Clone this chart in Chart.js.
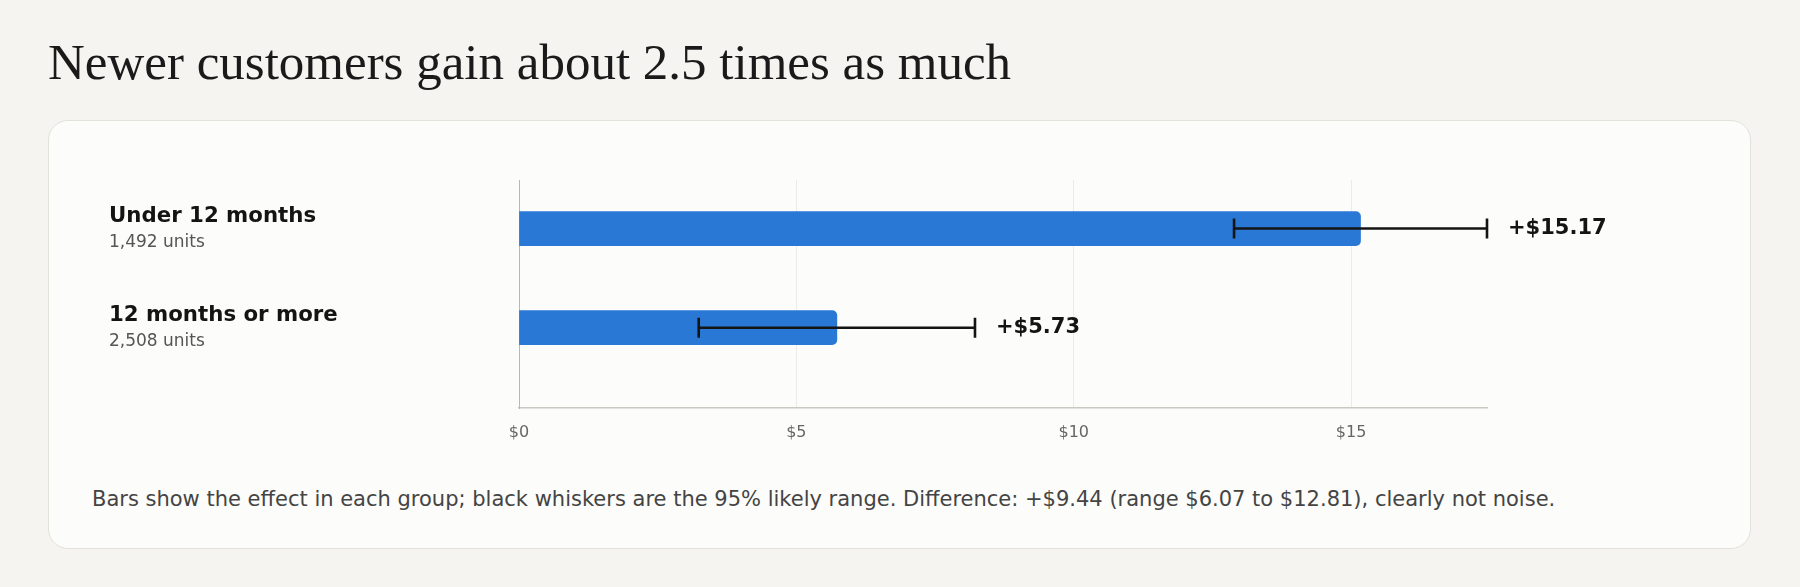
<!DOCTYPE html>
<html lang="en">
<head>
  <meta charset="UTF-8">
  <title>Effect by customer tenure</title>
  <script src="https://cdn.jsdelivr.net/npm/chart.js@4.4.1/dist/chart.umd.min.js"></script>
  <style>
    html, body { margin: 0; padding: 0; }
    body { width: 1800px; height: 587px; background: #f5f4f0; position: relative; overflow: hidden; }
    h1 {
      position: absolute; left: 48px; top: 37px; margin: 0;
      font: 400 51px/51px "Liberation Serif", "Times New Roman", serif;
      color: #1a1a1a; white-space: nowrap;
    }
    .card {
      position: absolute; left: 48px; top: 120px; width: 1701px; height: 427px;
      background: #fcfcfa; border: 1px solid #e3e1da; border-radius: 20px;
    }
    .chart-box { position: absolute; left: 0; top: 0; width: 1701px; height: 340px; }
    .note {
      position: absolute; left: 43px; top: 368px; margin: 0;
      font: 400 21px/21px "DejaVu Sans", sans-serif; color: #444; white-space: nowrap;
    }
  </style>
</head>
<body>
<h1>Newer customers gain about 2.5 times as much</h1>

<div class="card">
  <div class="chart-box">
    <canvas id="effectChart"></canvas>
  </div>
  <p class="note">Bars show the effect in each group; black whiskers are the 95% likely range. Difference: +$9.44 (range $6.07 to $12.81), clearly not noise.</p>
</div>

<script>
  // data
  const groups = ['Under 12 months', '12 months or more'];
  const units = ['1,492 units', '2,508 units'];
  const effects = [15.17, 5.73];
  const lowerCI = [12.89, 3.24];
  const upperCI = [17.45, 8.22];
  const xTicks = [0, 5, 10, 15];

  const BLUE = '#2a78d6';
  const INK = '#141414';

  // row labels on the left, whiskers and value labels on the right
  const rowDecor = {
    id: 'rowDecor',
    afterDatasetsDraw(chart) {
      const ctx = chart.ctx;
      const xs = chart.scales.x;
      const bars = chart.getDatasetMeta(0).data;
      ctx.save();
      bars.forEach((bar, i) => {
        const y = bar.y;
        const lo = xs.getPixelForValue(lowerCI[i]);
        const hi = xs.getPixelForValue(upperCI[i]);

        ctx.strokeStyle = INK;
        ctx.lineWidth = 2.6;
        ctx.beginPath();
        ctx.moveTo(lo, y); ctx.lineTo(hi, y);
        ctx.moveTo(lo, y - 10); ctx.lineTo(lo, y + 10);
        ctx.moveTo(hi, y - 10); ctx.lineTo(hi, y + 10);
        ctx.stroke();

        ctx.fillStyle = INK;
        ctx.font = 'bold 21px "DejaVu Sans", sans-serif';
        ctx.textAlign = 'left';
        ctx.textBaseline = 'middle';
        ctx.fillText('+$' + effects[i].toFixed(2), hi + 21, y);

        ctx.textBaseline = 'alphabetic';
        ctx.font = 'bold 21.3px "DejaVu Sans", sans-serif';
        ctx.fillText(groups[i], 60, y - 7);
        ctx.fillStyle = '#555';
        ctx.font = '17px "DejaVu Sans", sans-serif';
        ctx.fillText(units[i], 60, y + 18.7);
      });
      ctx.restore();
    }
  };

  const ctx = document.getElementById('effectChart').getContext('2d');
  new Chart(ctx, {
    type: 'bar',
    data: {
      datasets: [{
        data: effects.map((v, i) => ({ x: v, y: i })),
        backgroundColor: BLUE,
        borderRadius: 5,
        borderSkipped: 'start',
        barThickness: 34
      }]
    },
    options: {
      indexAxis: 'y',
      responsive: true,
      maintainAspectRatio: false,
      animation: false,
      layout: { padding: { left: 470, right: 263, top: 59, bottom: 13 } },
      plugins: { legend: { display: false }, tooltip: { enabled: false } },
      scales: {
        x: {
          type: 'linear',
          min: 0,
          max: upperCI[0],
          afterFit: s => { s.height = 40; },
          afterBuildTicks: s => { s.ticks = xTicks.map(v => ({ value: v })); },
          ticks: {
            padding: 15,
            color: '#666',
            font: { family: '"DejaVu Sans", sans-serif', size: 16 },
            callback: v => '$' + v
          },
          grid: { color: '#ebebe8', lineWidth: 1, drawTicks: false },
          border: { color: '#c9c8c0', width: 1.5 }
        },
        y: {
          type: 'linear',
          offset: false,
          min: -0.49,
          max: 1.81,
          reverse: true,
          afterFit: s => { s.width = 0; },
          ticks: { display: false },
          grid: { display: false, drawTicks: false, offset: false },
          border: { display: true, color: '#b9b8b0', width: 1 }
        }
      }
    },
    plugins: [rowDecor]
  });
</script>
</body>
</html>
